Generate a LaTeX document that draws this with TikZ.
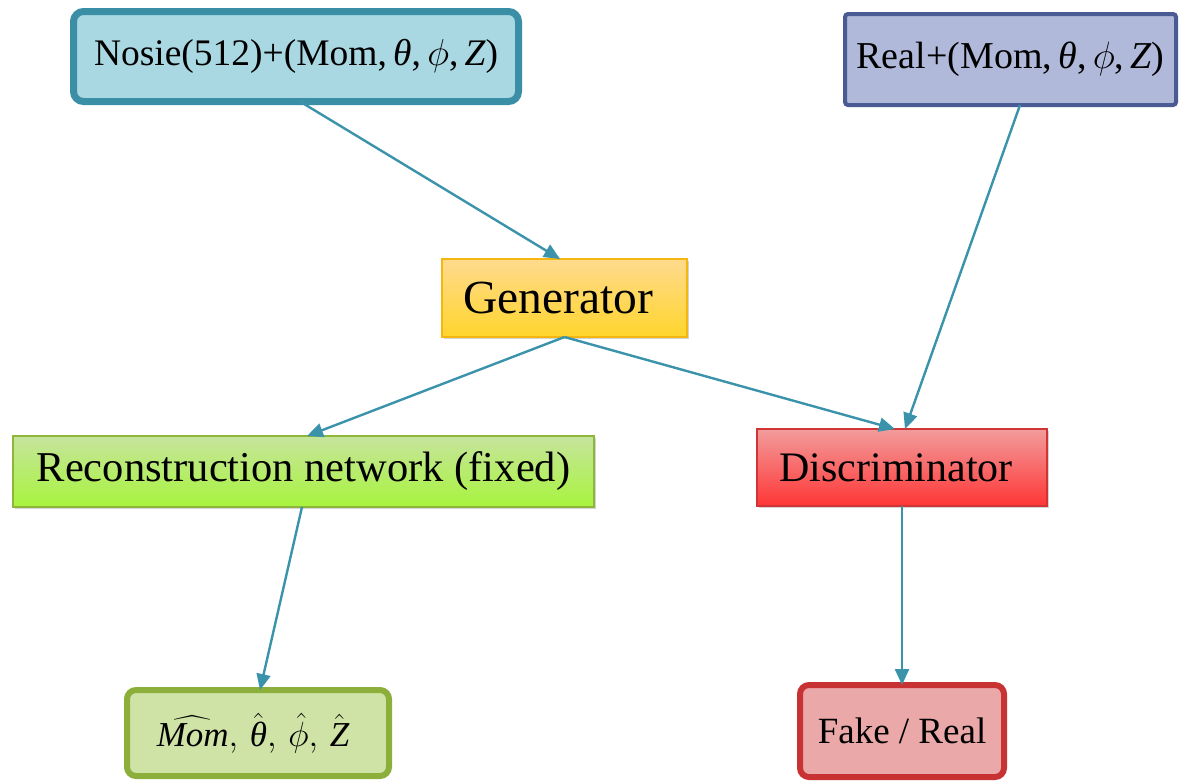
\documentclass[tikz,border=0pt]{standalone}
\usepackage{fix-cm}
\usepackage{amsmath}
\usepackage{fontspec}
\setmainfont{Liberation Serif}
\usetikzlibrary{arrows.meta,shadows}
\definecolor{arrowc}{HTML}{3A93AA}
\definecolor{noisefill}{HTML}{A9D8E3}
\definecolor{noisedraw}{HTML}{3A8FA6}
\definecolor{realfill}{HTML}{B0B9D9}
\definecolor{realdraw}{HTML}{4A5A92}
\definecolor{genfillt}{HTML}{FFDA8E}
\definecolor{genfillb}{HTML}{FFD52C}
\definecolor{gendraw}{HTML}{F5B70F}
\definecolor{recfillt}{HTML}{C6E49C}
\definecolor{recfillb}{HTML}{A8F43E}
\definecolor{recdraw}{HTML}{8DB63A}
\definecolor{disfillt}{HTML}{F29C9C}
\definecolor{disfillb}{HTML}{FF3636}
\definecolor{disdraw}{HTML}{D03434}
\definecolor{momfill}{HTML}{D0E3A6}
\definecolor{momdraw}{HTML}{8BAF3A}
\definecolor{fakefill}{HTML}{EAA8A8}
\definecolor{fakedraw}{HTML}{C83232}
\newcommand{\mi}[1]{{\itshape #1}}
\newcommand{\myphi}{\ensuremath{\phi}}
\tikzset{
  box/.style={rectangle, inner sep=0pt, outer sep=0pt, align=center, text=black},
  shadowed/.style={drop shadow={opacity=0.35, shadow xshift=2pt, shadow yshift=-2pt}},
  conn/.style={draw=arrowc, line width=2.4pt, -{Triangle[length=16pt,width=14pt]}}
}
\begin{document}
\begin{tikzpicture}[x=1pt,y=-1pt]
\useasboundingbox (0,0) rectangle (1182,780);
\node[box, draw=noisedraw, fill=noisefill, line width=7pt, rounded corners=10pt,
  minimum width=445pt, minimum height=90pt,
  font=\fontsize{37.5}{42}\selectfont] (noise) at (296,56.5)
  {Nosie(512)+(Mom,\,\mi{θ},\,\myphi,\,\mi{Z})};
\node[box, draw=realdraw, fill=realfill, line width=4pt, rounded corners=3pt,
  minimum width=331pt, minimum height=91pt,
  font=\fontsize{38}{42}\selectfont] (real) at (1010.5,59.5)
  {Real+(Mom,\,\mi{θ},\,\myphi,\,\mi{Z})};
\node[box, shadowed, draw=gendraw, top color=genfillt, bottom color=genfillb, line width=2pt,
  minimum width=245pt, minimum height=78pt,
  font=\fontsize{47.5}{52}\selectfont] (gen) at (564.5,298)
  {Generator\hspace*{12pt}};
\node[box, shadowed, draw=recdraw, top color=recfillt, bottom color=recfillb, line width=2pt,
  minimum width=581pt, minimum height=71pt,
  font=\fontsize{42.5}{48}\selectfont] (rec) at (303.5,471.5)
  {Reconstruction network (fixed)};
\node[box, shadowed, draw=disdraw, top color=disfillt, bottom color=disfillb, line width=2pt,
  minimum width=290pt, minimum height=77pt,
  font=\fontsize{42}{48}\selectfont] (dis) at (902,467.5)
  {Discriminator\hspace*{12pt}};
\node[box, draw=momdraw, fill=momfill, line width=6pt, rounded corners=9pt,
  minimum width=262pt, minimum height=86pt,
  font=\fontsize{35}{40}\selectfont] (mom) at (258,733)
  {$\widehat{\text{\mi{Mom}}},\,\hat{\text{\mi{θ}}},\,\hat{\phi},\,\hat{\text{\mi{Z}}}$\hspace*{10pt}};
\node[box, draw=fakedraw, fill=fakefill, line width=6pt, rounded corners=9pt,
  minimum width=204pt, minimum height=92pt,
  font=\fontsize{37}{42}\selectfont] (fake) at (902,731)
  {Fake / Real};
\draw[conn] ([xshift=4pt]noise.south) -- ([xshift=-4.5pt]gen.north);
\draw[conn] ([xshift=9.5pt]real.south) -- ([xshift=3pt]dis.north);
\draw[conn] (gen.south) -- ([xshift=3.5pt]rec.north);
\draw[conn] (gen.south) -- ([xshift=-7pt]dis.north);
\draw[conn] ([xshift=-1.5pt]rec.south) -- ([xshift=2pt]mom.north);
\draw[conn] (dis.south) -- (fake.north);
\end{tikzpicture}
\end{document}
